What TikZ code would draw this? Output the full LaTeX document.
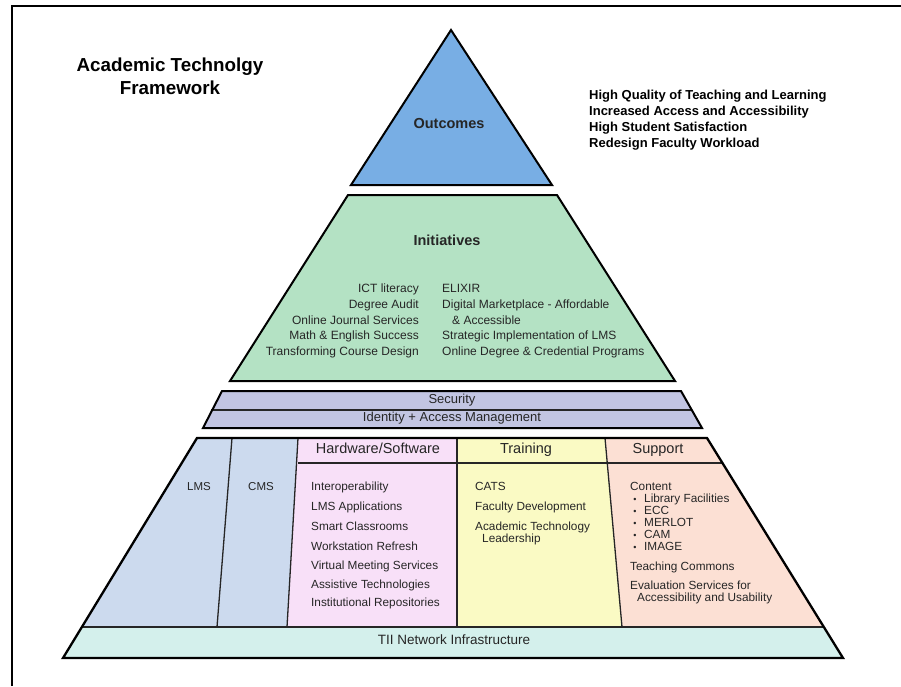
\documentclass[tikz,border=0pt]{standalone}
\usepackage{fontspec}
\setmainfont{Liberation Sans}
\definecolor{outc}{RGB}{120,174,228}
\definecolor{initc}{RGB}{180,226,196}
\definecolor{secc}{RGB}{194,197,226}
\definecolor{lmsc}{RGB}{204,218,238}
\definecolor{hwc}{RGB}{248,224,248}
\definecolor{trc}{RGB}{250,250,196}
\definecolor{suc}{RGB}{252,224,212}
\definecolor{tiic}{RGB}{212,240,236}
\tikzset{
  outerline/.style={draw=black, line width=2pt, line join=miter},
  innerline/.style={draw=black!85, line width=1.3pt},
  lbl/.style={inner sep=0pt, anchor=mid west, text=black!85},
  lblr/.style={inner sep=0pt, anchor=mid east, text=black!85},
  lblc/.style={inner sep=0pt, anchor=mid, text=black!85},
  listfont/.style={font=\fontsize{11.8}{14}\selectfont},
  initfont/.style={font=\fontsize{12}{14}\selectfont},
  headfont/.style={font=\fontsize{14.5}{17}\selectfont},
}
\begin{document}
\begin{tikzpicture}[x=1pt,y=-1pt]
\useasboundingbox (0,0) rectangle (901,686);
% frame
\draw[line width=2pt] (12,686) -- (12,6) -- (901,6);

% title
\node[inner sep=0pt, align=center, font=\fontsize{18.8}{23}\selectfont\bfseries] (title) at (170,76) {Academic Technolgy\\Framework};

% outcomes triangle
\fill[outc] (451,30) -- (552,185) -- (351,185) -- cycle;
\draw[outerline] (451,30) -- (552,185) -- (351,185) -- cycle;
\node[lblc, font=\fontsize{14.5}{17}\selectfont\bfseries] (outcomes) at (449,126) {Outcomes};

% outcome list
\foreach \t [count=\i] in {High Quality of Teaching and Learning, Increased Access and Accessibility, High Student Satisfaction, Redesign Faculty Workload}
  \node[lbl, text=black, font=\fontsize{13}{14}\selectfont\bfseries] (out-\i) at (589,81+16*\i) {\t};

% initiatives trapezoid
\fill[initc] (348,195) -- (557,195) -- (675,381) -- (230,381) -- cycle;
\draw[outerline] (348,195) -- (557,195) -- (675,381) -- (230,381) -- cycle;
\node[lblc, font=\fontsize{14.5}{17}\selectfont\bfseries] (initiatives) at (447,243) {Initiatives};
\foreach \t/\y [count=\i] in {ICT literacy/290, Degree Audit/306, Online Journal Services/322, Math \& English Success/337, Transforming Course Design/353}
  \node[lblr, initfont] (initl-\i) at (419,\y) {\t};
\foreach \t/\y [count=\i] in {ELIXIR/290, Digital Marketplace - Affordable/306, Strategic Implementation of LMS/337, Online Degree \& Credential Programs/353}
  \node[lbl, initfont] (initr-\i) at (442,\y) {\t};
\node[lbl, initfont] (initr-acc) at (452,322) {\& Accessible};

% security band
\fill[secc] (222,391) -- (681,391) -- (702,428) -- (203,428) -- cycle;
\draw[innerline] (211,410) -- (692,410);
\draw[outerline] (222,391) -- (681,391) -- (702,428) -- (203,428) -- cycle;
\node[lblc, font=\fontsize{13}{15}\selectfont] (security) at (452,401) {Security};
\node[lblc, font=\fontsize{13}{15}\selectfont] (iam) at (452,419) {Identity + Access Management};

% bottom block
\fill[lmsc] (197,438) -- (232,438) -- (217,627) -- (82,627) -- cycle;
\fill[lmsc] (232,438) -- (298,438) -- (287,627) -- (217,627) -- cycle;
\fill[hwc] (298,438) -- (457,438) -- (457,627) -- (287,627) -- cycle;
\fill[trc] (457,438) -- (605,438) -- (622,627) -- (457,627) -- cycle;
\fill[suc] (605,438) -- (707,438) -- (824,627) -- (622,627) -- cycle;
\fill[tiic] (82,627) -- (824,627) -- (843,658) -- (63,658) -- cycle;
\draw[innerline] (232,438) -- (217,627);
\draw[innerline] (298,438) -- (287,627);
\draw[innerline] (457,438) -- (457,627);
\draw[innerline] (605,438) -- (622,627);
\draw[innerline] (298,463) -- (722.5,463);
\draw[innerline] (82,627) -- (824,627);
\draw[outerline, line width=2.3pt] (197,438) -- (707,438) -- (843,658) -- (63,658) -- cycle;

\node[lblc, font=\fontsize{11.5}{14}\selectfont] (lms) at (199,488) {LMS};
\node[lblc, font=\fontsize{11.5}{14}\selectfont] (cms) at (261,488) {CMS};

\node[lblc, headfont] (hwhead) at (378,451) {Hardware/Software};
\node[lblc, headfont] (trhead) at (526,451) {Training};
\node[lblc, headfont] (suhead) at (658,451) {Support};

\foreach \t/\y [count=\i] in {Interoperability/488, LMS Applications/508, Smart Classrooms/528, Workstation Refresh/548, Virtual Meeting Services/567, Assistive Technologies/586, Institutional Repositories/604}
  \node[lbl, listfont] (hw-\i) at (311,\y) {\t};

\foreach \t/\y [count=\i] in {CATS/488, Faculty Development/508, Academic Technology/528}
  \node[lbl, listfont] (tr-\i) at (475,\y) {\t};
\node[lbl, listfont] (tr-lead) at (482,540) {Leadership};

\node[lbl, listfont] (su-content) at (630,488) {Content};
\foreach \t/\y [count=\i] in {Library Facilities/500, ECC/512, MERLOT/524, CAM/536, IMAGE/548}{
  \node[lbl, listfont] (su-b\i) at (644,\y) {\t};
  \node[lblc, font=\fontsize{9}{10}\selectfont] (su-dot\i) at (635,\y) {•};
}
\node[lbl, listfont] (su-tc) at (630,568) {Teaching Commons};
\node[lbl, listfont] (su-ev) at (630,587) {Evaluation Services for};
\node[lbl, listfont] (su-au) at (637,599) {Accessibility and Usability};

\node[lblc, font=\fontsize{13.5}{16}\selectfont] (tii) at (454,642) {TII Network Infrastructure};
\end{tikzpicture}
\end{document}
